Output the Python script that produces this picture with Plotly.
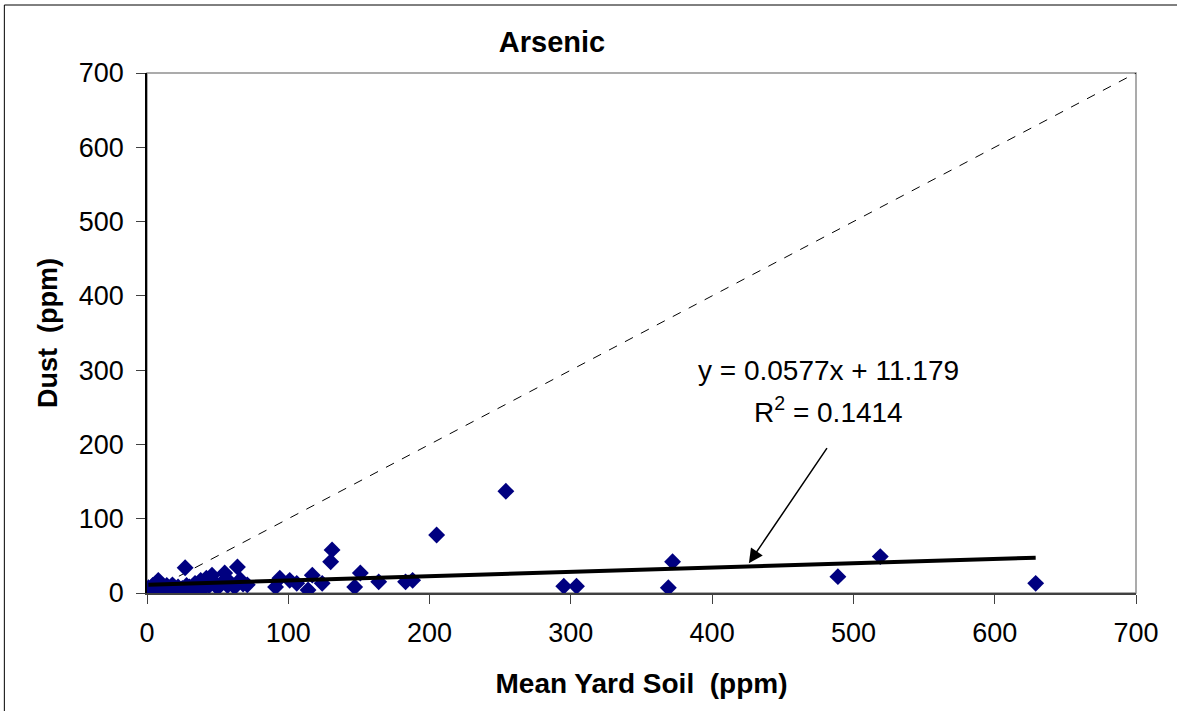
import plotly.graph_objects as go

# Mean yard soil vs. dust arsenic concentrations (ppm)
soil_ppm = [1, 2, 4, 5, 6, 8, 9, 10, 12, 14, 16, 18, 20, 22, 25, 27, 28, 30, 32, 34,
            36, 38, 40, 42, 44, 46, 48, 50, 52, 55, 57, 59, 62, 64, 66, 68, 71,
            91, 94, 101, 106, 114, 117, 124, 130, 131, 147, 151, 164, 183, 188,
            205, 254, 295, 304, 369, 372, 489, 519, 629]
dust_ppm = [7, 4, 10, 3, 12, 17, 1, 8, 5, 10, 6, 11, 4, 8, 6, 34, 10, 8, 4, 13,
            9, 17, 6, 20, 10, 24, 14, 7, 12, 27, 10, 14, 8, 35, 18, 12, 11,
            8, 20, 17, 13, 4, 24, 13, 42, 58, 8, 27, 15, 15, 17,
            78, 137, 9, 9, 7, 42, 22, 49, 13]

# Linear trend (least squares) as reported on the chart
slope = 0.0577
intercept = 11.179
r_squared = 0.1414

axis_max = 700
tick_vals = [0, 100, 200, 300, 400, 500, 600, 700]

FONT = "Liberation Sans, Arial, sans-serif"

trend_x = [min(soil_ppm), max(soil_ppm)]
trend_y = [slope * v + intercept for v in trend_x]

fig = go.Figure()

# 1:1 reference line
fig.add_trace(go.Scatter(
    x=[0, axis_max], y=[0, axis_max], mode="lines",
    line=dict(color="black", width=1, dash="dash"),
    hoverinfo="skip", showlegend=False,
))

fig.add_trace(go.Scatter(
    x=soil_ppm, y=dust_ppm, mode="markers",
    marker=dict(symbol="diamond", size=13, color="#000080",
                line=dict(width=0)),
    showlegend=False,
))

fig.add_trace(go.Scatter(
    x=trend_x, y=trend_y, mode="lines",
    line=dict(color="black", width=4),
    hoverinfo="skip", showlegend=False,
))

axis_common = dict(
    range=[0, axis_max], tickvals=tick_vals, ticks="outside", ticklen=9,
    tickcolor="#404040", tickwidth=1, showgrid=False, zeroline=False,
    showline=True, linewidth=1.5,
    tickfont=dict(family=FONT, size=27, color="black"),
)

fig.update_xaxes(
    **axis_common, linecolor="#404040", ticklabelstandoff=6,
    title=dict(text="Mean Yard Soil\u00a0\u00a0(ppm)", standoff=26,
               font=dict(family=FONT, size=28, color="black", weight="bold")),
)
fig.update_yaxes(
    **axis_common, linecolor="black", ticklabelstandoff=7,
    title=dict(text="Dust\u00a0\u00a0(ppm)", standoff=13,
               font=dict(family=FONT, size=27, color="black", weight="bold")),
)

fig.update_layout(
    width=1177, height=711,
    margin=dict(l=147, r=41, t=73, b=118),
    paper_bgcolor="white", plot_bgcolor="white",
    title=dict(text="<b>Arsenic</b>", x=552 / 1177,
               xanchor="center", y=1 - 42 / 711, yanchor="middle",
               font=dict(family=FONT, size=29, color="black")),
    shapes=[
        # plot-area frame (top and right edges)
        dict(type="rect", xref="paper", yref="paper", x0=0, y0=0, x1=1, y1=1,
             line=dict(color="#909090", width=1.5), layer="below"),
        # chart-area border, left and top edges
        dict(type="line", xref="paper", yref="paper",
             x0=(4.5 - 147) / 988, x1=(4.5 - 147) / 988,
             y0=(593 - 720) / 520, y1=(593 - 5) / 520,
             line=dict(color="black", width=1), layer="below"),
        dict(type="line", xref="paper", yref="paper",
             x0=(4.5 - 147) / 988, x1=(1200 - 147) / 988,
             y0=(593 - 5) / 520, y1=(593 - 5) / 520,
             line=dict(color="black", width=1), layer="below"),
    ],
    annotations=[
        dict(x=482, y=300, xref="x", yref="y", showarrow=False,
             text=f"y = {slope}x + {intercept}",
             font=dict(family=FONT, size=28, color="black")),
        dict(x=482, y=246, xref="x", yref="y", showarrow=False,
             text=f"R<sup>2</sup> = {r_squared}",
             font=dict(family=FONT, size=28, color="black")),
        dict(x=426, y=40, xref="x", yref="y", ax=482, ay=197,
             axref="x", ayref="y", text="", showarrow=True,
             arrowhead=2, arrowsize=1.9, arrowwidth=1.5, arrowcolor="black"),
    ],
)

fig.write_html("out.html")
